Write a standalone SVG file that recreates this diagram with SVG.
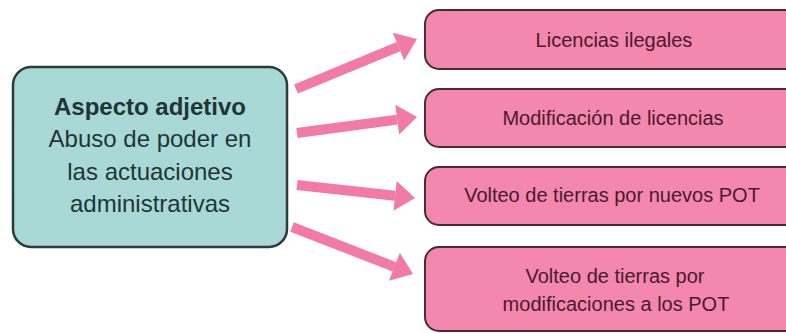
<svg xmlns="http://www.w3.org/2000/svg" width="786" height="333" viewBox="0 0 786 333">
<defs>
<style>
.main{fill:#a9d9d6;stroke:#2d3b3a;stroke-width:2.5}
.item{fill:#f387ad;stroke:#4a2a35;stroke-width:2}
.mt{font-family:"Liberation Sans",Arial,sans-serif;font-size:24px;fill:#1f3535;text-anchor:middle}
.it{font-family:"Liberation Sans",Arial,sans-serif;font-size:20px;fill:#4a1a2e;text-anchor:middle}
.arr{stroke:#f27aa6;stroke-width:10;fill:none;marker-end:url(#head)}
</style>
<marker id="head" markerUnits="userSpaceOnUse" markerWidth="20" markerHeight="30" refX="0" refY="15" orient="auto" overflow="visible">
<path d="M0,0 L20,15 L0,30 Z" fill="#f27aa6"/>
</marker>
</defs>
<rect width="786" height="333" fill="#ffffff"/>
<g id="connectors">
<line class="arr" x1="296" y1="89" x2="398.5" y2="46.6"/>
<line class="arr" x1="297" y1="133" x2="397.2" y2="119.6"/>
<line class="arr" x1="297" y1="185" x2="395.1" y2="195.8"/>
<line class="arr" x1="292" y1="227" x2="394.4" y2="266.8"/>
</g>
<g id="aspecto">
<rect class="main" x="13" y="67" width="274" height="180" rx="18"/>
<text class="mt" x="150" y="115" font-weight="bold">Aspecto adjetivo</text>
<text class="mt" x="150" y="147">Abuso de poder en</text>
<text class="mt" x="150" y="180">las actuaciones</text>
<text class="mt" x="150" y="212">administrativas</text>
</g>
<g id="licencias">
<rect class="item" x="425" y="10" width="380" height="59" rx="14"/>
<text class="it" x="614" y="47">Licencias ilegales</text>
</g>
<g id="modificacion">
<rect class="item" x="425" y="89" width="380" height="58" rx="14"/>
<text class="it" x="613" y="125">Modificación de licencias</text>
</g>
<g id="volteo-nuevos">
<rect class="item" x="425" y="167" width="380" height="58" rx="14"/>
<text class="it" x="612" y="202">Volteo de tierras por nuevos POT</text>
</g>
<g id="volteo-modificaciones">
<rect class="item" x="425" y="247" width="380" height="84" rx="14"/>
<text class="it" x="615" y="283">Volteo de tierras por</text>
<text class="it" x="616" y="311">modificaciones a los POT</text>
</g>
</svg>
